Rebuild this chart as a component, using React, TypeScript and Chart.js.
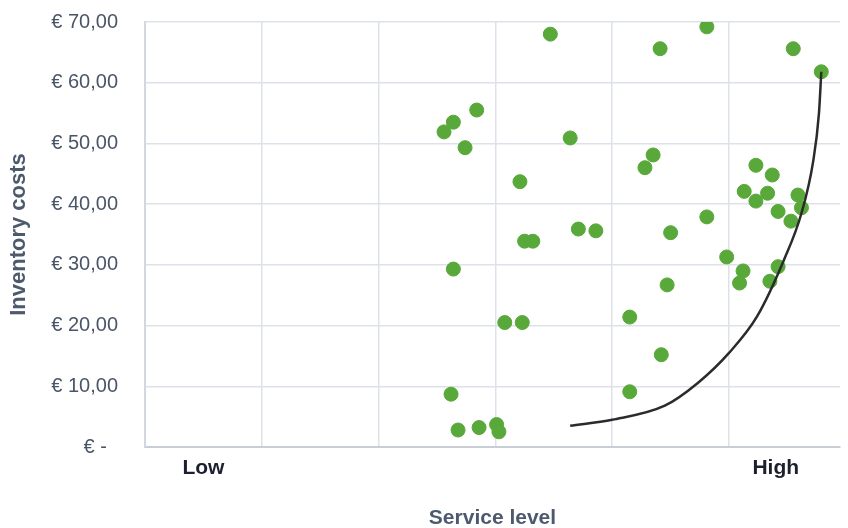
import React, { useEffect, useRef } from "react";
import { Chart, registerables } from "chart.js";

Chart.register(...registerables);

// Scatter observations (service level on a relative scale, inventory cost in €)
const serviceLevel = [
  3.47, 4.41, 4.81, 5.55, 5.79,
  2.56, 2.64, 2.84, 2.74, 3.64, 3.21,
  4.35, 4.28, 5.23, 5.37, 5.13, 5.33, 5.23, 5.59, 5.42, 5.62, 5.53,
  4.81, 4.50, 3.71, 3.86, 3.25, 3.32, 2.64,
  4.98, 5.12, 5.09, 5.42, 5.35, 4.47,
  3.08, 3.23, 4.15, 4.42, 2.62, 4.15,
  2.68, 2.86, 3.01, 3.03,
];
const inventoryCost = [
  68.0, 65.6, 69.2, 65.6, 61.8,
  51.9, 53.5, 55.5, 49.3, 50.9, 43.7,
  48.1, 46.0, 46.4, 44.8, 42.1, 41.8, 40.5, 41.5, 38.8, 39.4, 37.2,
  37.9, 35.3, 35.9, 35.6, 33.9, 33.9, 29.3,
  31.3, 29.0, 27.0, 29.7, 27.3, 26.7,
  20.5, 20.5, 21.4, 15.2, 8.7, 9.1,
  2.8, 3.2, 3.7, 2.5,
];

// Hand-drawn trend curve, read along its path
const curveX = [3.64, 4.0, 4.45, 4.73, 5.0, 5.24, 5.47, 5.62, 5.72, 5.77, 5.79];
const curveY = [3.5, 4.5, 6.8, 10.5, 15.5, 21.5, 30.8, 38.5, 47.0, 55.0, 61.8];

const yTicks = [0, 10, 20, 30, 40, 50, 60, 70];
const xGridValues = [0, 1, 2, 3, 4, 5];
const xCategoryLabels = [
  { value: 0.5, label: "Low" },
  { value: 5.4, label: "High" },
];

const FONT = "'Liberation Sans', Arial, sans-serif";

export default function App() {
  const ref = useRef<HTMLCanvasElement | null>(null);

  useEffect(() => {
    if (!ref.current) return;
    const points = serviceLevel.map((x, i) => ({ x, y: inventoryCost[i] }));
    const curve = curveX.map((x, i) => ({ x, y: curveY[i] }));

    const chart = new Chart(ref.current, {
      type: "scatter",
      data: {
        datasets: [
          {
            type: "line",
            data: curve,
            borderColor: "#2b2b2b",
            borderWidth: 2.5,
            pointRadius: 0,
            cubicInterpolationMode: "monotone",
            fill: false,
            order: 0,
          } as any,
          {
            data: points,
            backgroundColor: "#58a83a",
            borderColor: "#58a83a",
            pointRadius: 7,
            pointHoverRadius: 7,
            order: 1,
          },
        ],
      },
      options: {
        animation: false,
        responsive: false,
        maintainAspectRatio: false,
        layout: { padding: { left: 0, right: 2, top: 22, bottom: 0 } },
        plugins: {
          legend: { display: false },
          tooltip: { enabled: false },
        },
        scales: {
          x: {
            type: "linear",
            min: 0,
            max: 5.95,
            afterBuildTicks: (scale: any) => {
              const vals = [...xGridValues, ...xCategoryLabels.map((c) => c.value)].sort(
                (a, b) => a - b
              );
              scale.ticks = vals.map((v) => ({ value: v }));
            },
            afterFit: (scale: any) => {
              scale.height = 81;
              scale.paddingLeft = 0;
              scale.paddingRight = 0;
            },
            grid: {
              drawTicks: false,
              color: (ctx: any) => {
                const v = ctx.tick ? ctx.tick.value : 0;
                return Number.isInteger(v) && v > 0 ? "#dde1ea" : "rgba(0,0,0,0)";
              },
              lineWidth: 1.5,
            },
            border: { display: true, color: "#c9cdd6", width: 2 },
            ticks: {
              autoSkip: false,
              maxRotation: 0,
              padding: 9,
              color: "#1c1f2e",
              font: { family: FONT, size: 21, weight: "bold" },
              callback: (value: any) => {
                const c = xCategoryLabels.find((k) => k.value === Number(value));
                return c ? c.label : "";
              },
            },
            title: {
              display: true,
              text: "Service level",
              color: "#4d5a6e",
              font: { family: FONT, size: 21, weight: "bold" },
              padding: { top: 0, bottom: -3 },
            },
          },
          y: {
            type: "linear",
            min: 0,
            max: 70,
            afterBuildTicks: (scale: any) => {
              scale.ticks = yTicks.map((v) => ({ value: v }));
            },
            afterFit: (scale: any) => {
              scale.width = 145;
              scale.paddingTop = 0;
              scale.paddingBottom = 0;
            },
            grid: {
              drawTicks: false,
              color: "#dde1ea",
              lineWidth: 1.5,
            },
            border: { display: true, color: "#d3d7e0", width: 2 },
            ticks: {
              padding: 27,
              color: "#4a5568",
              font: { family: FONT, size: 20 },
              callback: (value: any) =>
                Number(value) === 0 ? "€ -  " : "€ " + Number(value).toFixed(2).replace(".", ","),
            },
            title: {
              display: true,
              text: "Inventory costs",
              color: "#4d5a6e",
              font: { family: FONT, size: 22, weight: "bold" },
              padding: { top: 6, bottom: 0 },
            },
          },
        },
      },
    });
    return () => chart.destroy();
  }, []);

  return (
    <div style={{ position: "fixed", left: 0, top: 0, width: 848, height: 528, background: "#fff" }}>
      <canvas ref={ref} width={848} height={528} style={{ width: 848, height: 528 }} />
    </div>
  );
}
